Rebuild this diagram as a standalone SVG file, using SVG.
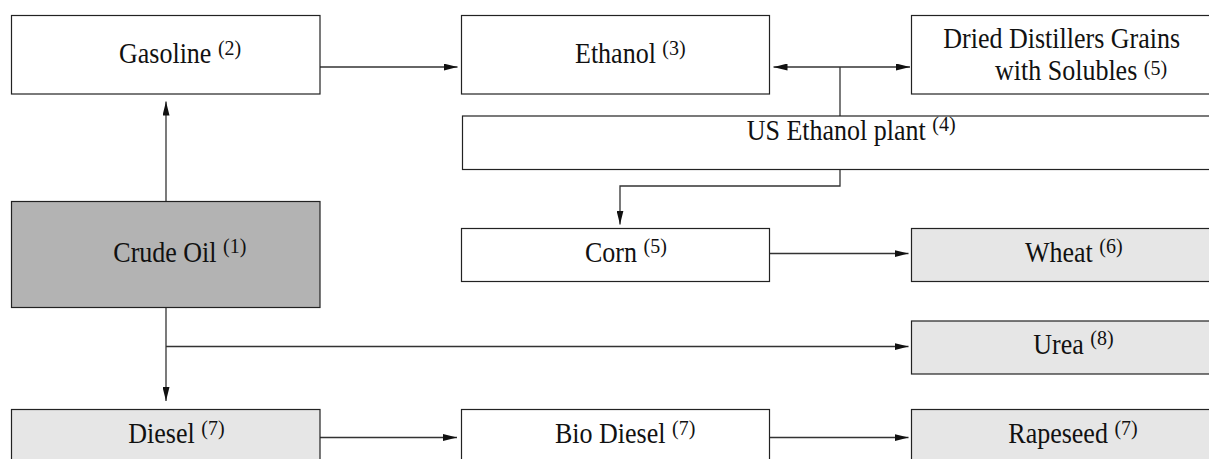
<svg xmlns="http://www.w3.org/2000/svg" width="1209" height="459" viewBox="0 0 1209 459">
  <style>
    .box { stroke: #222; stroke-width: 1.2; fill: #fff; }
    .dark { fill: #b3b3b3; }
    .light { fill: #e6e6e6; }
    text { font-family: 'Liberation Serif', 'DejaVu Serif', serif; font-size: 26px; fill: #111; }
    .sup { font-size: 20px; }
    .wire { fill: none; stroke: #333; stroke-width: 1.3; }
  </style>
  <defs>
    <marker id="head" markerUnits="userSpaceOnUse" markerWidth="14" markerHeight="7" refX="14" refY="3.5" orient="auto-start-reverse">
      <path d="M0,0 L14,3.5 L0,7 z" fill="#111"/>
    </marker>
  </defs>

  <g id="connectors">
    <path class="wire" d="M166,201.5 V101.5" marker-end="url(#head)"/>
    <path class="wire" d="M320,67 H457.5" marker-end="url(#head)"/>
    <path class="wire" d="M773.5,67 H910" marker-start="url(#head)" marker-end="url(#head)"/>
    <path class="wire" d="M840,116 V67"/>
    <path class="wire" d="M840,169.5 V186 H620 V224.5" marker-end="url(#head)"/>
    <path class="wire" d="M770,253.5 H908.5" marker-end="url(#head)"/>
    <path class="wire" d="M166,346.5 H908.5" marker-end="url(#head)"/>
    <path class="wire" d="M166,307.5 V401" marker-end="url(#head)"/>
    <path class="wire" d="M320,437.5 H457" marker-end="url(#head)"/>
    <path class="wire" d="M770,437.5 H908.5" marker-end="url(#head)"/>
  </g>

  <g id="gasoline">
    <rect class="box" x="11.5" y="15.5" width="308.5" height="78.5"/>
    <text font-family="Liberation Serif, serif" transform="translate(119,63.3) scale(1,1.1)">Gasoline <tspan class="sup" dy="-8">(2)</tspan></text>
  </g>
  <g id="ethanol">
    <rect class="box" x="461.5" y="15.5" width="308" height="78.5"/>
    <text transform="translate(575,63.3) scale(1,1.1)">Ethanol <tspan class="sup" dy="-8">(3)</tspan></text>
  </g>
  <g id="ddgs">
    <rect class="box" x="911.5" y="15.5" width="310" height="78.5"/>
    <text transform="translate(943.3,48) scale(1,1.1)">Dried Distillers Grains</text>
    <text transform="translate(995,80) scale(1,1.1)">with Solubles <tspan class="sup" dy="-5">(5)</tspan></text>
  </g>
  <g id="us-ethanol-plant">
    <rect class="box" x="462.5" y="116" width="760" height="53.5"/>
    <text transform="translate(746.7,139.5) scale(1,1.1)">US Ethanol plant <tspan class="sup" dy="-8">(4)</tspan></text>
  </g>
  <g id="crude-oil">
    <rect class="box dark" x="11.5" y="201.5" width="308.5" height="106"/>
    <text transform="translate(113.3,261.7) scale(1,1.1)">Crude Oil <tspan class="sup" dy="-8">(1)</tspan></text>
  </g>
  <g id="corn">
    <rect class="box" x="461.5" y="228.5" width="308" height="53"/>
    <text transform="translate(585,261.7) scale(1,1.1)">Corn <tspan class="sup" dy="-8">(5)</tspan></text>
  </g>
  <g id="wheat">
    <rect class="box light" x="911.5" y="228.5" width="310" height="53"/>
    <text transform="translate(1025,261.7) scale(1,1.1)">Wheat <tspan class="sup" dy="-8">(6)</tspan></text>
  </g>
  <g id="urea">
    <rect class="box light" x="911.5" y="321" width="310" height="53"/>
    <text transform="translate(1033.3,354) scale(1,1.1)">Urea <tspan class="sup" dy="-8">(8)</tspan></text>
  </g>
  <g id="diesel">
    <rect class="box light" x="11.5" y="409.5" width="308.5" height="60"/>
    <text transform="translate(128.3,443.3) scale(1,1.1)">Diesel <tspan class="sup" dy="-8">(7)</tspan></text>
  </g>
  <g id="bio-diesel">
    <rect class="box" x="461.5" y="409.5" width="308" height="60"/>
    <text transform="translate(555,443.3) scale(1,1.1)">Bio Diesel <tspan class="sup" dy="-8">(7)</tspan></text>
  </g>
  <g id="rapeseed">
    <rect class="box light" x="911.5" y="409.5" width="310" height="60"/>
    <text transform="translate(1008.3,443.3) scale(1,1.1)">Rapeseed <tspan class="sup" dy="-8">(7)</tspan></text>
  </g>
</svg>
